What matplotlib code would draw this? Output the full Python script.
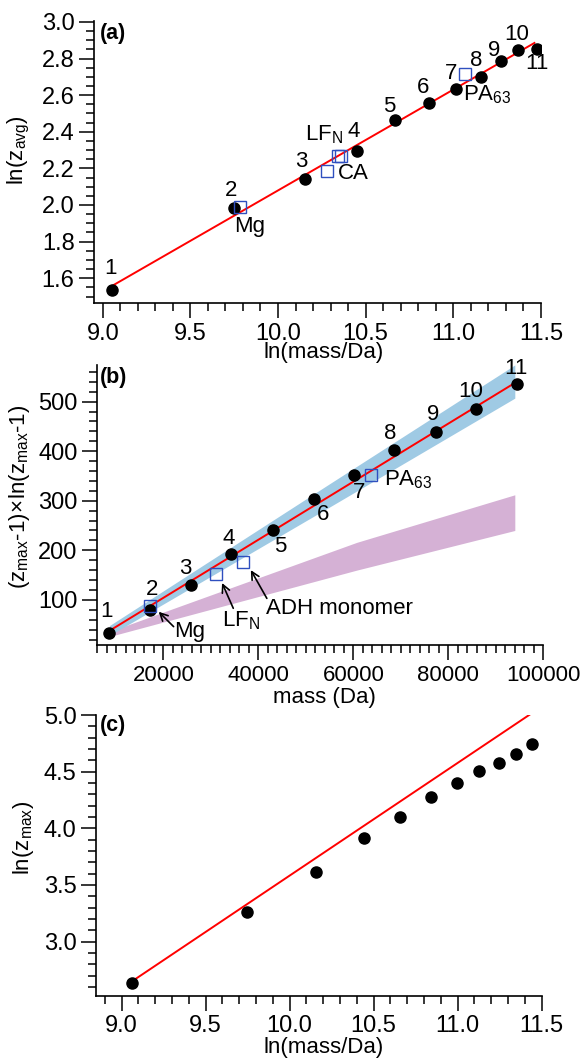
import numpy as np
import matplotlib
matplotlib.use('Agg')
import matplotlib.pyplot as plt
from matplotlib.ticker import MultipleLocator, FormatStrFormatter

plt.rcParams['font.family'] = ['Liberation Sans', 'DejaVu Sans']
plt.rcParams['mathtext.fontset'] = 'custom'
plt.rcParams['mathtext.rm'] = 'Liberation Sans'

# ============================================================
# DATA
# ============================================================
labels = ['1', '2', '3', '4', '5', '6', '7', '8', '9', '10', '11']

# (a) ln(mass/Da) vs ln(z_avg)
a_lnmass = [9.053, 9.750, 10.155, 10.451, 10.670, 10.862, 11.015, 11.160, 11.274, 11.370, 11.478]
a_lnz    = [1.538, 1.986, 2.144, 2.295, 2.463, 2.559, 2.632, 2.700, 2.785, 2.849, 2.854]
# open squares: Mg, CA, LF_N, ADH, PA63
a_sq_x   = [9.782, 10.280, 10.340, 10.360, 11.065]
a_sq_y   = [1.990, 2.186, 2.270, 2.270, 2.718]
a_fit_x  = [9.053, 11.463]
a_fit_y  = [1.558, 2.885]

# (b) mass vs (zmax-1)ln(zmax-1)
b_mass   = [8600, 17100, 25700, 34300, 43000, 51600, 60200, 68500, 77300, 85800, 94400]
b_val    = [32.8, 79.8, 129.6, 192.0, 241.0, 303.0, 352.0, 403.0, 439.5, 484.7, 535.7]
# open squares: Mg, LF_N, ADH monomer, PA63
b_sq_x   = [17100, 31000, 36800, 63750]
b_sq_y   = [88.0, 152.4, 176.6, 351.0]
b_fit_x  = [8600, 94400]
b_fit_y  = [37.5, 540.0]
blue_x   = [8600, 55100, 94000]
blue_lo  = [28, 288, 507]
blue_hi  = [48, 335, 574]
purple_x  = [8600, 60700, 94000]
purple_lo = [26, 160, 240]
purple_hi = [36, 216, 312]

# (c) ln(mass/Da) vs ln(zmax)
c_lnmass = [9.059, 9.747, 10.154, 10.440, 10.659, 10.842, 10.996, 11.127, 11.246, 11.347, 11.444]
c_lnz    = [2.632, 3.259, 3.612, 3.912, 4.097, 4.279, 4.397, 4.506, 4.579, 4.656, 4.741]
c_fit_x  = [9.059, 11.430]
c_fit_y  = [2.647, 5.005]

# number-label positions (data coords)
a_lab_x = [9.047, 9.734, 10.134, 10.432, 10.632, 10.830, 10.985, 11.132, 11.234, 11.362, 11.479]
a_lab_y = [1.655, 2.078, 2.236, 2.400, 2.540, 2.642, 2.718, 2.791, 2.846, 2.931, 2.770]
b_lab_x = [8000, 17660, 24490, 33680, 44670, 53540, 61160, 67830, 76720, 84720, 94150]
b_lab_y = [76, 120, 164, 224.5, 207.5, 271.5, 316.5, 435, 473, 520, 567]

BLUE_SQ = '#2f4fbf'
FS_TICK = 17
FS_LAB = 16
W, H = 582, 1059


def style(ax, xmaj, xmin_, ymaj, ymin_, xfmt, yfmt):
    for s in ['top', 'right']:
        ax.spines[s].set_visible(False)
    for s in ['left', 'bottom']:
        ax.spines[s].set_linewidth(1.2)
    ax.xaxis.set_major_locator(MultipleLocator(xmaj))
    ax.xaxis.set_minor_locator(MultipleLocator(xmin_))
    ax.yaxis.set_major_locator(MultipleLocator(ymaj))
    ax.yaxis.set_minor_locator(MultipleLocator(ymin_))
    ax.xaxis.set_major_formatter(FormatStrFormatter(xfmt))
    ax.yaxis.set_major_formatter(FormatStrFormatter(yfmt))
    ax.tick_params(which='major', direction='out', length=11, width=1.1,
                   labelsize=FS_TICK, pad=3)
    ax.tick_params(which='minor', direction='out', length=5.5, width=1.1)


def ftext(px, py, s, **kw):
    kw.setdefault('fontsize', FS_LAB)
    kw.setdefault('ha', 'center')
    fig.text(px / W, 1 - py / H, s, va='center', **kw)


fig = plt.figure(figsize=(5.82, 10.59), dpi=100)
arrow = dict(arrowstyle='->, head_length=0.55, head_width=0.28', color='black', lw=1.2,
             shrinkA=0, shrinkB=0)

# ============================================================
# (a)
# ============================================================
ax = fig.add_axes([0.1615, 0.7136, 0.7679, 0.2666])
ax.plot(a_fit_x, a_fit_y, color='red', lw=1.4, zorder=3)
ax.plot(a_lnmass, a_lnz, 'o', color='black', ms=8, zorder=4)
ax.plot(a_sq_x, a_sq_y, 's', mfc='none', mec=BLUE_SQ, mew=1.0, ms=8, zorder=5)
for t, x, y in zip(labels, a_lab_x, a_lab_y):
    ax.text(x, y, t, ha='center', va='center', fontsize=FS_LAB)
ax.text(9.84, 1.882, 'Mg', ha='center', va='center', fontsize=FS_LAB)
ax.text(10.432, 2.173, 'CA', ha='center', va='center', fontsize=FS_LAB)
ax.text(10.26, 2.385, r'$\mathregular{LF_N}$', ha='center', va='center', fontsize=FS_LAB)
ax.text(11.058, 2.60, r'$\mathregular{PA_{63}}$', ha='left', va='center', fontsize=FS_LAB)
ax.set_xlim(8.95, 11.5)
ax.set_ylim(1.463, 3.005)
style(ax, 0.5, 0.1, 0.2, 0.05, '%.1f', '%.1f')
ftext(100, 33, '(a)', ha='left', fontsize=15.5, fontweight='bold')
ftext(324, 353, 'ln(mass/Da)')
ftext(19, 150, r'$\mathregular{ln(z_{avg})}$', rotation=90)

# ============================================================
# (b)
# ============================================================
ax = fig.add_axes([0.1667, 0.3905, 0.7668, 0.2649])
ax.fill_between(purple_x, purple_lo, purple_hi, color='#d5b1d5', lw=0, zorder=1)
ax.fill_between(blue_x, blue_lo, blue_hi, color='#9fcae4', lw=0, zorder=1)
ax.plot(b_fit_x, b_fit_y, color='red', lw=1.4, zorder=3)
ax.plot(b_mass, b_val, 'o', color='black', ms=8, zorder=4)
ax.plot(b_sq_x, b_sq_y, 's', mfc='none', mec=BLUE_SQ, mew=1.0, ms=8, zorder=5)
for t, x, y in zip(labels, b_lab_x, b_lab_y):
    ax.text(x, y, t, ha='center', va='center', fontsize=FS_LAB)
ax.text(66500, 342, r'$\mathregular{PA_{63}}$', ha='left', va='center', fontsize=FS_LAB)
ax.text(22300, 36, 'Mg', ha='left', va='center', fontsize=FS_LAB)
ax.text(32300, 58, r'$\mathregular{LF_N}$', ha='left', va='center', fontsize=FS_LAB)
ax.text(41600, 83, 'ADH monomer', ha='left', va='center', fontsize=FS_LAB)
ax.annotate('', xy=(18990, 76), xytext=(22130, 46), arrowprops=arrow)
ax.annotate('', xy=(32340, 134), xytext=(34700, 83), arrowprops=arrow)
ax.annotate('', xy=(38400, 160), xytext=(41770, 103), arrowprops=arrow)
ax.set_xlim(6000, 100000)
ax.set_ylim(8, 574)
style(ax, 20000, 2000, 100, 20, '%d', '%d')
ax.set_xticks([20000, 40000, 60000, 80000, 100000])
ax.tick_params(axis='x', which='major', labelsize=16)
ftext(100, 378, '(b)', ha='left', fontsize=15.5, fontweight='bold')
ftext(324, 697, 'mass (Da)')
ftext(20, 497, r'$\mathregular{(z_{max}\text{-}1)\!\times\!ln(z_{max}\text{-}1)}$', rotation=90)

# ============================================================
# (c)
# ============================================================
ax = fig.add_axes([0.1649, 0.0595, 0.7658, 0.2653])
ax.plot(c_fit_x, c_fit_y, color='red', lw=1.4, zorder=3)
ax.plot(c_lnmass, c_lnz, 'o', color='black', ms=8, zorder=4)
ax.set_xlim(8.847, 11.5)
ax.set_ylim(2.52, 5.0)
style(ax, 0.5, 0.1, 0.5, 0.1, '%.1f', '%.1f')
ftext(100, 725, '(c)', ha='left', fontsize=15.5, fontweight='bold')
ftext(324, 1048, 'ln(mass/Da)')
ftext(24, 838, r'$\mathregular{ln(z_{max})}$', rotation=90)

fig.savefig('out.png', dpi=100, facecolor='white')
